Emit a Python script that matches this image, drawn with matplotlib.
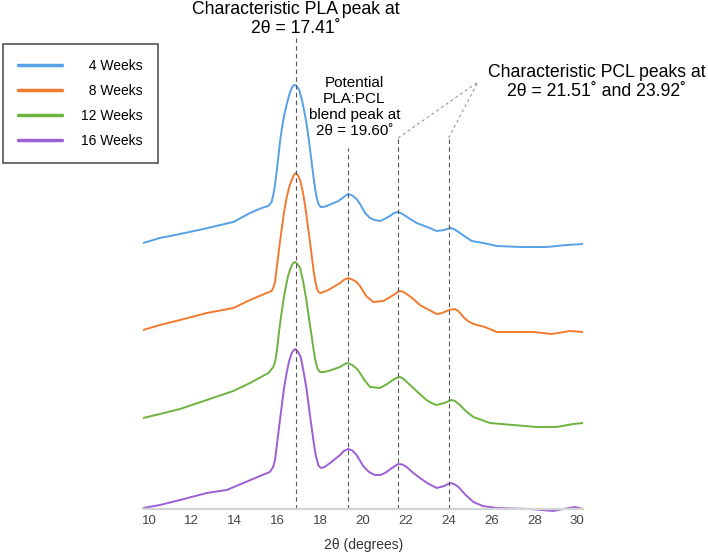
import matplotlib
matplotlib.use("Agg")
import matplotlib.pyplot as plt

plt.rcParams['font.family'] = ['Liberation Sans', 'DejaVu Sans']

# XRD patterns (2theta, intensity a.u.)
tt_4 = [9.73, 10.51, 11.45, 12.54, 13.94, 14.72, 15.27, 15.58, 15.73, 15.82, 15.89, 15.98,
        16.05, 16.12, 16.22, 16.32, 16.43, 16.55, 16.67, 16.75, 16.82, 16.9, 17.02, 17.15,
        17.29, 17.4, 17.5, 17.6, 17.7, 17.78, 17.84, 17.92, 18.02, 18.15, 18.3, 18.85,
        19.1, 19.31, 19.5, 19.7, 19.86, 20.1, 20.33, 20.55, 20.79, 21.0, 21.26, 21.45,
        21.65, 21.85, 22.2, 22.51, 23.0, 23.44, 23.8, 24.07, 24.25, 24.53, 24.8, 25.08,
        25.62, 26.25, 27.34, 28.58, 29.52, 30.29]
i_4 = [1, 6, 10, 15, 22, 31, 36, 38, 42, 50, 59, 75,
       88, 102, 117, 129, 139, 149, 156, 158.5, 159, 158, 154, 144,
       129, 115, 99, 82, 65, 53, 46, 40, 37, 37, 38, 43,
       47, 50, 48.5, 45, 40, 31, 26, 24, 23, 25, 28, 31,
       32, 30, 25, 21, 17, 13, 14, 16, 15, 11, 7, 3,
       1, -2, -3, -3, -1, 0]

tt_8 = [9.73, 10.51, 11.45, 12.7, 13.94, 14.72, 15.5, 15.73, 15.82, 15.89, 15.98, 16.05,
        16.12, 16.22, 16.32, 16.43, 16.55, 16.67, 16.77, 16.85, 16.95, 17.06, 17.18, 17.29,
        17.4, 17.5, 17.6, 17.7, 17.78, 17.84, 17.92, 18.02, 18.15, 18.38, 18.93, 19.1,
        19.31, 19.5, 19.7, 19.86, 20.15, 20.48, 20.95, 21.2, 21.42, 21.7, 21.85, 22.04,
        22.3, 22.66, 23.0, 23.44, 23.7, 23.91, 24.1, 24.3, 24.45, 24.69, 24.9, 25.16,
        25.7, 26.25, 27.18, 27.96, 28.82, 29.67, 30.29]
i_8 = [1, 6, 11, 18, 23, 31, 38, 40, 44, 49, 65, 77,
       89, 105, 120, 133, 144, 151, 156, 158, 156, 151, 140, 126,
       109, 93, 76, 59, 49, 43, 39, 38, 39, 41, 48, 51,
       53, 51.5, 49, 45, 35, 29, 30, 33, 36, 40, 39.5, 37,
       33, 26, 22, 17, 18, 20, 21.5, 22, 20, 14, 10, 7,
       4, -1, -1, -1, -3, 0, -1]

tt_12 = [9.73, 10.51, 11.45, 12.7, 13.94, 14.72, 15.58, 15.81, 15.9, 15.97, 16.08, 16.2,
         16.3, 16.4, 16.51, 16.62, 16.72, 16.82, 16.94, 17.06, 17.2, 17.37, 17.5, 17.6,
         17.68, 17.78, 17.88, 17.99, 18.15, 18.38, 18.93, 19.1, 19.27, 19.5, 19.7, 19.86,
         20.1, 20.33, 20.79, 21.05, 21.33, 21.55, 21.73, 21.9, 22.35, 22.65, 22.97, 23.2,
         23.44, 23.8, 24.14, 24.3, 24.53, 24.8, 25.16, 25.93, 27.02, 28.11, 29.04, 29.83,
         30.29]
i_12 = [1, 5, 10, 19, 28, 36, 46, 52, 58, 67, 88, 107,
        121, 133, 144, 151, 155.5, 157, 155, 151, 138, 117, 97, 83,
        71, 58, 50, 47, 47, 48, 52, 54.5, 56, 54, 50.5, 46,
        38, 32, 31, 34, 38, 41, 42, 40, 31, 25, 19, 16,
        14, 16, 19, 18, 14, 8, 2, -4, -6, -8, -8, -5,
        -4]

tt_16 = [9.73, 10.51, 11.45, 12.7, 13.63, 14.41, 15.19, 15.65, 15.8, 15.89, 16.0, 16.12,
         16.22, 16.32, 16.43, 16.55, 16.67, 16.77, 16.85, 16.97, 17.09, 17.22, 17.37, 17.5,
         17.6, 17.68, 17.78, 17.91, 18.0, 18.07, 18.2, 18.46, 18.93, 19.1, 19.31, 19.5,
         19.7, 20.01, 20.28, 20.56, 20.8, 21.03, 21.35, 21.65, 21.85, 22.04, 22.3, 22.66,
         23.0, 23.44, 23.8, 24.07, 24.25, 24.46, 24.8, 25.16, 25.6, 26.25, 27.8, 28.89,
         29.36, 29.91, 30.29]
i_16 = [1, 4, 9, 16, 19, 26, 33, 37, 42, 49, 68, 89,
        106, 122, 136, 148, 156, 159, 160, 157, 152, 138, 119, 97,
        82, 69, 55, 44, 41.5, 41, 42, 46, 54, 58, 60, 58.5,
        54, 43, 37, 34, 34, 36, 41, 45, 44.5, 42, 37, 31,
        26, 21, 23, 26, 25, 22, 14, 7, 3, 1, 0, -2,
        0, 2, 0]

labels = ["\u20074 Weeks", "\u20078 Weeks", "12 Weeks", "16 Weeks"]
offsets = [265, 178, 90, 0]
colors = ["#55a0e6", "#f37a2e", "#6db33f", "#9c5fd5"]

# reference lines: x position, top of the vertical part
peak_x = [16.87, 19.3, 21.64, 24.0]
peak_top = [472, 361, 371, 371]
pcl_join = (25.37, 427)

fig = plt.figure(figsize=(7.08, 5.55), dpi=100)
ax = fig.add_axes([143.2 / 708, 40 / 555, 440 / 708, 515 / 555])

curves = [(tt_4, i_4), (tt_8, i_8), (tt_12, i_12), (tt_16, i_16)]
for (x, y), off, c, lab in zip(curves, offsets, colors, labels):
    ax.plot(x, [v + off for v in y], color=c, lw=1.4, label=lab,
            solid_joinstyle='round', solid_capstyle='round')

for px, top in zip(peak_x, peak_top):
    ax.plot([px, px], [0, top], ls=(0, (4, 3)), color="#555555", lw=0.8)
for px, top in zip(peak_x[2:], peak_top[2:]):
    ax.plot([px, pcl_join[0]], [top, pcl_join[1]], ls=(0, (3, 3)), color="#888888", lw=0.7)

ax.text(16.87, 490, "Characteristic PLA peak at\n2θ = 17.41˚", ha='center', va='center',
        fontsize=12.7, linespacing=1.2)
ax.text(19.6, 402, "Potential\nPLA:PCL\nblend peak at\n2θ = 19.60˚", ha='center', va='center',
        fontsize=11, linespacing=1.2)
ax.text(30.93, 427, "Characteristic PCL peaks at\n2θ = 21.51˚ and 23.92˚", ha='center', va='center',
        fontsize=12.7, linespacing=1.2)

ax.set_xlim(9.73, 30.29)
ax.set_ylim(-6, 509)
ax.set_xticks(range(10, 31, 2))
ax.set_yticks([])
for s in ['top', 'left', 'right']:
    ax.spines[s].set_visible(False)
ax.spines['bottom'].set_position(('data', 0))
ax.spines['bottom'].set_color('#d4d4d4')
ax.spines['bottom'].set_linewidth(1.6)
ax.tick_params(axis='x', length=0, pad=4, labelsize=9.5, labelcolor='#444444')
ax.set_xlabel("2θ (degrees)", fontsize=10, color='#333333', labelpad=8)
ax.patch.set_visible(False)

leg = fig.legend(loc='upper left', bbox_to_anchor=(3 / 708, 1 - 44 / 555), borderaxespad=0,
                 fontsize=10, handlelength=3.2, handletextpad=1.4, labelspacing=0.8,
                 borderpad=1.05, fancybox=False, edgecolor='#555555', framealpha=1)
leg.get_frame().set_linewidth(1.2)
for h in leg.get_lines():
    h.set_linewidth(2.5)

fig.savefig("out.png", dpi=100)
